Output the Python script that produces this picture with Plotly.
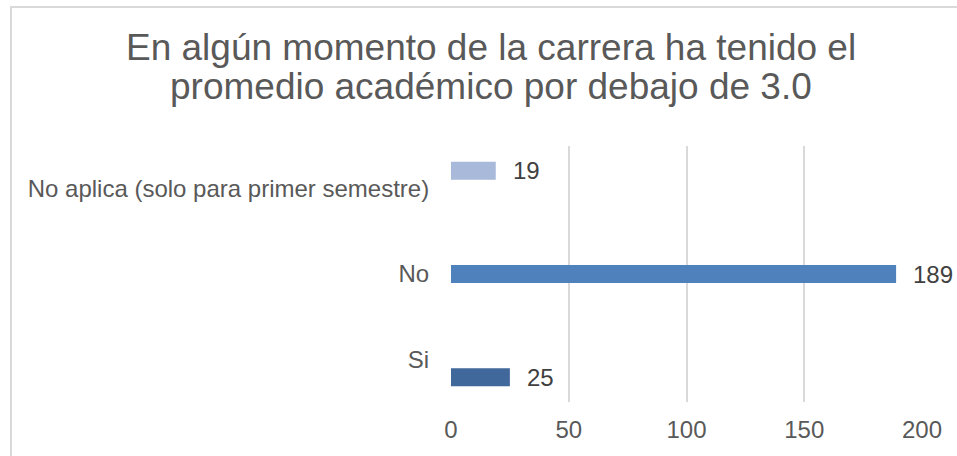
import plotly.graph_objects as go

# Survey answers, listed bottom to top as they appear on the category axis
categories = ["Si", "No", "No aplica (solo para primer semestre)"]
series_names = ["Si", "No", "No aplica (solo para primer semestre)"]
series_values = [25, 189, 19]
series_colors = ["#40689A", "#4F81BD", "#A9B9DA"]
x_ticks = [0, 50, 100, 150, 200]

title_lines = [
    "En algún momento de la carrera ha tenido el",
    "promedio académico por debajo de 3.0",
]

FONT = "Liberation Sans, Arial, sans-serif"
W, H = 957, 456
L, R, T, B = 451, 35, 146, 54
plot_h = H - T - B
plot_w = W - L - R

fig = go.Figure()

# One series per answer, each filling only its own category (clustered layout)
for i, (name, val, col) in enumerate(zip(series_names, series_values, series_colors)):
    xs = [val if c == name else None for c in categories]
    fig.add_trace(go.Bar(
        y=categories, x=xs, name=name, orientation="h",
        marker=dict(color=col, line=dict(width=0)),
        showlegend=False, hoverinfo="x+name",
    ))

# Value labels at the end of each bar, shifted to that series' slot in the group
band = plot_h / len(categories)
bar_h = 18
n = len(series_names)
for i, (name, val) in enumerate(zip(series_names, series_values)):
    slot_offset = (i - (n - 1) / 2) * bar_h
    fig.add_annotation(
        x=val, y=name, xref="x", yref="y",
        text=str(val), showarrow=False,
        xanchor="left", yanchor="middle",
        xshift=15, yshift=slot_offset,
        font=dict(family=FONT, size=24, color="#404040"),
    )

# Two-line chart title
title_y = [62, 101]
for line, base in zip(title_lines, title_y):
    fig.add_annotation(
        x=(491 - L) / plot_w, y=1 + (T - base) / plot_h,
        xref="paper", yref="paper", text=line, showarrow=False,
        xanchor="center", yanchor="bottom", yshift=-8,
        font=dict(family=FONT, size=37, color="#595959"),
    )

# Caption running off the top edge of the page
fig.add_annotation(
    x=(445 - L) / plot_w, y=1 + (T - 4) / plot_h,
    xref="paper", yref="paper", text="<b>3.0</b>", showarrow=False,
    xanchor="center", yanchor="bottom",
    font=dict(family=FONT, size=22, color="#1a1a1a"),
)

# Chart frame (top and left edges visible)
fig.add_shape(
    type="rect", xref="paper", yref="paper",
    x0=(11 - L) / plot_w, x1=(W + 20 - L) / plot_w,
    y0=-(B + 20) / plot_h, y1=1 + (T - 7) / plot_h,
    line=dict(color="#D9D9D9", width=2), fillcolor="rgba(0,0,0,0)",
    layer="below",
)

fig.update_layout(
    width=W, height=H,
    margin=dict(l=L, r=R, t=T, b=B, pad=0),
    paper_bgcolor="white", plot_bgcolor="white",
    barmode="group", bargap=1 - n * bar_h / band, bargroupgap=0,
    font=dict(family=FONT, size=24, color="#595959"),
)
fig.update_xaxes(
    range=[0, 200], tickvals=x_ticks,
    showgrid=True, gridcolor="#D9D9D9", gridwidth=2,
    zeroline=False, showline=False,
    ticks="outside", ticklen=6, tickcolor="rgba(0,0,0,0)",
    tickfont=dict(family=FONT, size=24, color="#595959"),
    fixedrange=True,
)
fig.update_yaxes(
    type="category", categoryorder="array", categoryarray=categories,
    range=[-0.5, len(categories) - 0.5],
    showgrid=False, zeroline=False, showline=False,
    ticks="outside", ticklen=16, tickcolor="rgba(0,0,0,0)",
    tickfont=dict(family=FONT, size=24, color="#595959"),
    fixedrange=True,
)

fig.write_html("out.html", config={"displayModeBar": False})
